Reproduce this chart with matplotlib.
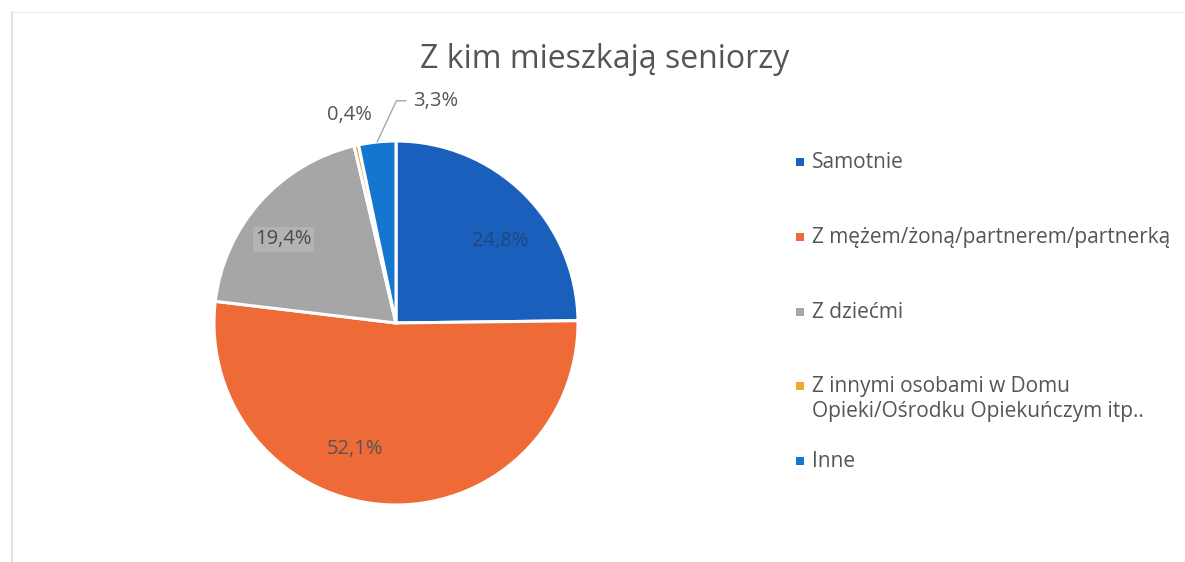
import numpy as np
import matplotlib
matplotlib.use('Agg')
import matplotlib.pyplot as plt
from matplotlib.patches import Rectangle
from matplotlib.lines import Line2D

plt.rcParams['font.family'] = ['Open Sans', 'DejaVu Sans']

# ------------------------------------------------------------
# Data
# ------------------------------------------------------------
title = 'Z kim mieszkają seniorzy'
categories = [
    'Samotnie',
    'Z mężem/żoną/partnerem/partnerką',
    'Z dziećmi',
    'Z innymi osobami w Domu\nOpieki/Ośrodku Opiekuńczym itp..',
    'Inne',
]
shares = [24.8, 52.1, 19.4, 0.4, 3.3]
colors = ['#1b5fbd', '#ee6a36', '#a6a6a8', '#f0a830', '#1576cf']

# label placement (radius as fraction of pie radius, angle shift in degrees)
label_r = [0.73, 0.73, 0.77, 1.17, 1.24]
label_shift = [-7, -15, 5, 0, -16]
label_colors = ['#22477e', '#555555', '#4a4a4a', '#555555', '#555555']

W, H = 1185, 562
fig = plt.figure(figsize=(W / 100, H / 100), dpi=100)
fig.patch.set_facecolor('white')

# pie axes: centre (396, 323) px, radius 182 px
cx, cy, r = 396, 323, 182
ax = fig.add_axes([(cx - r) / W, (H - cy - r) / H, 2 * r / W, 2 * r / H])
wedges, _ = ax.pie(shares, colors=colors, startangle=90, counterclock=False,
                   wedgeprops=dict(edgecolor='white', linewidth=2.2))
ax.set_xlim(-1, 1)
ax.set_ylim(-1, 1)
ax.set_aspect('equal')
ax.axis('off')

for i, w in enumerate(wedges):
    mid = np.deg2rad((w.theta1 + w.theta2) / 2)
    ang = mid + np.deg2rad(label_shift[i])
    txt = f'{shares[i]:.1f}%'.replace('.', ',')
    x, y = label_r[i] * np.cos(ang), label_r[i] * np.sin(ang)
    bbox = None
    if i == 2:
        bbox = dict(boxstyle='square,pad=0.12', facecolor='#b3b3b5', edgecolor='none')
    if i == 4:
        ax.annotate(txt, xy=(np.cos(mid), np.sin(mid)), xytext=(x, y),
                    ha='center', va='center', fontsize=14.5, color=label_colors[i],
                    annotation_clip=False,
                    arrowprops=dict(arrowstyle='-', color='#a6a6a6', lw=1,
                                    shrinkA=3, shrinkB=0,
                                    relpos=(0.0, 0.5),
                                    connectionstyle='angle,angleA=0,angleB=65,rad=0'))
    else:
        ax.text(x, y, txt, ha='center', va='center', fontsize=14.5,
                color=label_colors[i], bbox=bbox, clip_on=False)

# title
fig.text(605 / W, 1 - 60 / H, title, ha='center', va='center',
         fontsize=23, color='#555555')

# legend, drawn by hand to keep Excel-like slot spacing
leg_x, leg_y0, leg_step = 800, 162, 74.8
for i, lab in enumerate(categories):
    y = leg_y0 + i * leg_step
    fig.patches.append(Rectangle(((leg_x - 4) / W, 1 - (y + 4) / H), 8 / W, 8 / H,
                                 transform=fig.transFigure, facecolor=colors[i],
                                 edgecolor='none'))
    fig.text((leg_x + 12) / W, 1 - (y - 10) / H, lab, ha='left', va='top',
             fontsize=15, color='#555555', linespacing=1.25)

# faint frame edges of the scanned chart
fig.add_artist(Line2D([12 / W, 12 / W], [0, 1 - 12 / H], color='#dcdcdc', lw=1.2))
fig.add_artist(Line2D([12 / W, 1], [1 - 12 / H, 1 - 12 / H], color='#f0f0f0', lw=1.0))

fig.savefig('out.png', dpi=100, facecolor='white')
